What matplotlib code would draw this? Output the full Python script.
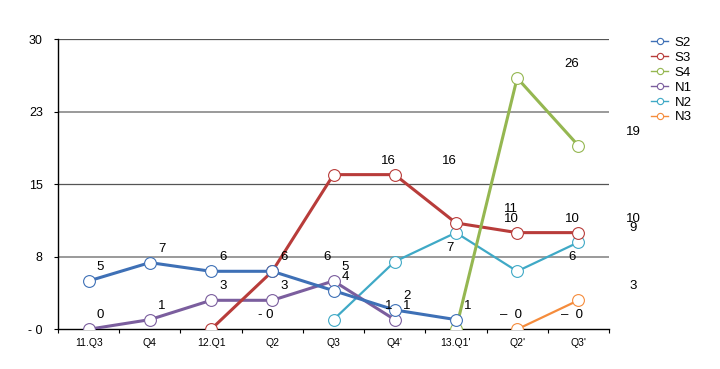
"""Quarterly series S2..N3, Excel-style line chart."""
import matplotlib
matplotlib.use("Agg")
import matplotlib.pyplot as plt
from matplotlib.lines import Line2D
import numpy as np

plt.rcParams["font.family"] = ["Liberation Sans", "DejaVu Sans"]

quarters = ["11.Q3", "Q4", "12.Q1", "Q2", "Q3", "Q4'", "13.Q1'", "Q2'", "Q3'"]
N = np.nan

s2 = [5, 6.9, 6, 6, 4, 2, 1, N, N]
s3 = [N, N, 0, 6, 16, 16, 11, 10, 10]
s4 = [N, N, N, N, N, N, 0, 26, 19]
n1 = [0, 1, 3, 3, 5, 1, N, N, N]
n2 = [N, N, N, N, 1, 7, 10, 6, 9]
n3 = [N, N, N, N, N, N, N, 0, 3]

s2_lab = ["5", "7", "6", "6", "4", "2", "1", "", ""]
s3_lab = ["", "", "- 0", "6", "16", "16", "11", "10", "10"]
s4_lab = ["", "", "", "", "", "", "–  0", "26", "19"]
n1_lab = ["0", "1", "3", "3", "5", "1", "", "", ""]
n2_lab = ["", "", "", "", "1", "7", "10", "6", "9"]
n3_lab = ["", "", "", "", "", "", "", "–  0", "3"]

yticks = [0, 7.5, 15, 22.5, 30]
ytick_labels = ["- 0", "8", "15", "23", "30"]

# name, values, labels, color, line width, zorder, label x-offset (pt)
SERIES = [
    ("N2", n2, n2_lab, "#3FA9C6", 1.6, 3, 39.6),
    ("N1", n1, n1_lab, "#7B5E9E", 2.2, 4, 8.6),
    ("N3", n3, n3_lab, "#F58C3C", 1.6, 4, 39.6),
    ("S3", s3, s3_lab, "#B83C3A", 2.2, 5, 39.6),
    ("S4", s4, s4_lab, "#95B751", 2.2, 6, 39.6),
    ("S2", s2, s2_lab, "#3E70B6", 2.2, 7, 8.6),
]
LEGEND_ORDER = ["S2", "S3", "S4", "N1", "N2", "N3"]

fig = plt.figure(figsize=(7.2, 3.69), dpi=100)
ax = fig.add_axes([0.0806, 0.1076, 0.7652, 0.7859])
x = np.arange(len(quarters))

for y, c, lw in zip(yticks[1:], ["#9a9a9a", "#555555", "#9a9a9a", "#555555"],
                    [1.4, 0.9, 1.4, 0.9]):
    ax.axhline(y, color=c, linewidth=lw, zorder=1)

handles = {}
for name, vals, labs, color, lw, z, dx in SERIES:
    ax.plot(x, vals, color=color, linewidth=lw, marker="o", markersize=8.5,
            markerfacecolor="white", markeredgecolor=color,
            markeredgewidth=0.8, zorder=z)
    for xi, v, t in zip(x, vals, labs):
        if t and not np.isnan(v):
            ax.annotate(t, (xi, v), xytext=(dx, 10), textcoords="offset points",
                        ha="center", va="center", fontsize=9.5, zorder=10)
    handles[name] = Line2D([], [], color=color, linewidth=1.0, marker="o",
                           markersize=4.5, markerfacecolor="white",
                           markeredgecolor=color, markeredgewidth=0.8)

ax.set_xlim(-0.5, len(quarters) - 0.5)
ax.set_ylim(0, 30)
ax.set_yticks(yticks)
ax.set_yticklabels(ytick_labels, fontsize=9)
ax.set_xticks(x)
ax.set_xticklabels(quarters, fontsize=7.5)
ax.set_xticks(np.arange(-0.5, len(quarters)), minor=True)
ax.tick_params(axis="x", which="major", length=0, pad=6)
ax.tick_params(axis="x", which="minor", length=3, direction="out", width=0.8)
ax.tick_params(axis="y", length=3, direction="out", width=0.8, pad=8)
for s in ("top", "right"):
    ax.spines[s].set_visible(False)
ax.spines["left"].set_linewidth(1.0)
ax.spines["bottom"].set_linewidth(1.0)

fig.legend([handles[n] for n in LEGEND_ORDER], LEGEND_ORDER,
           loc="upper left", bbox_to_anchor=(0.895, 0.918), frameon=False,
           fontsize=9.5, handlelength=1.3, handletextpad=0.5,
           labelspacing=0.2, borderpad=0)

fig.savefig("out.png", dpi=100)
